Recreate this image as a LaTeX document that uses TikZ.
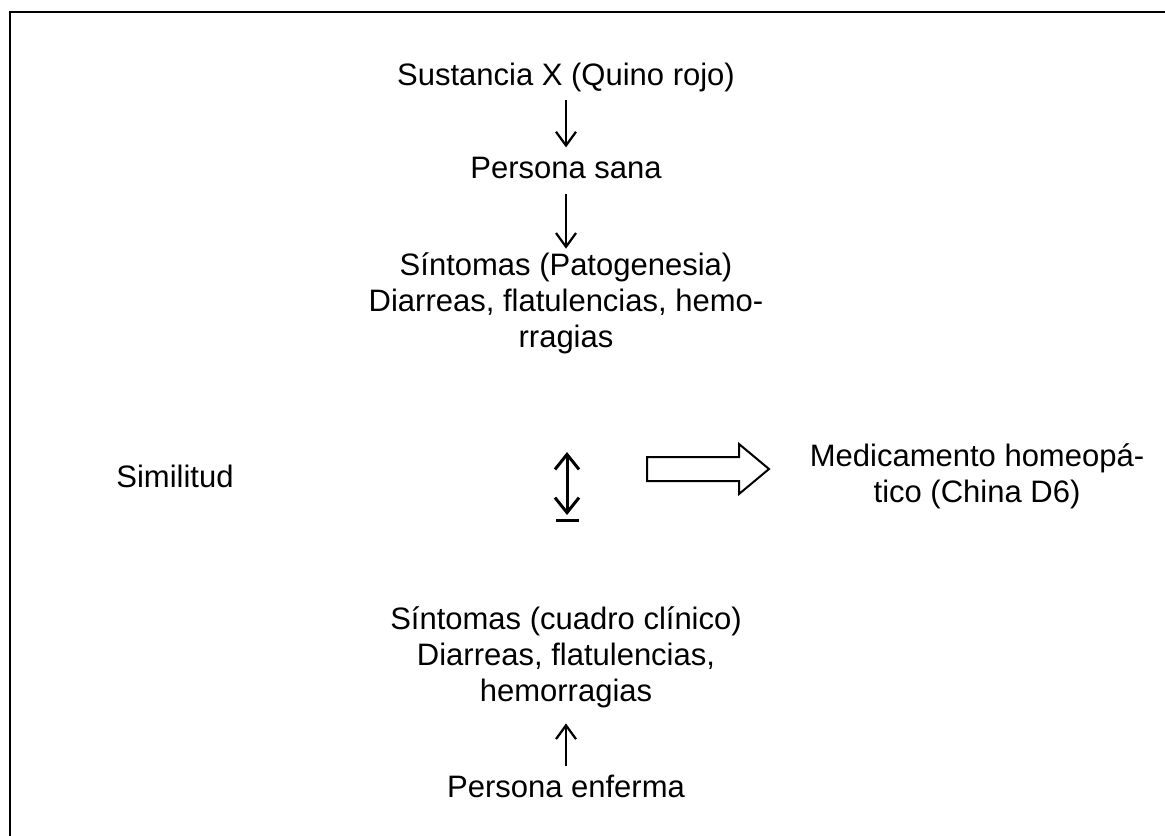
\documentclass[tikz,border=0pt]{standalone}
\usepackage{fontspec}
\setmainfont{Liberation Sans}
\usetikzlibrary{arrows.meta}
\begin{document}
\begin{tikzpicture}[x=0.4pt,y=-0.4pt,
  every node/.style={inner sep=0pt,font=\fontsize{12.4}{14.4}\selectfont},
  txt/.style={align=center,anchor=base},
  flow/.style={line width=0.9pt,-{Straight Barb[length=5.5pt,width=8pt]}},
  simarrow/.style={line width=1.2pt,{Straight Barb[length=6pt,width=9.6pt]}-{Straight Barb[length=6pt,width=9.6pt]}}]
\useasboundingbox (0,0) rectangle (1165,835);
\draw[line width=1.1pt] (1175,12) -- (10,12) -- (10,845);

% base of a multi-line node = its last line
\node[txt] (sust) at (566,85) {Sustancia X (Quino rojo)};
\node[txt] (sana) at (566,178) {Persona sana};
\node[txt] (pato) at (566,347) {Síntomas (Patogenesia)\\Diarreas, flatulencias, hemo-\\rragias};
\node[txt] (simil) at (175,487) {Similitud};
\node[txt] (medic) at (977,502) {Medicamento homeopá-\\tico (China D6)};
\node[txt] (cuadro) at (566,701) {Síntomas (cuadro clínico)\\Diarreas, flatulencias,\\hemorragias};
\node[txt] (enferma) at (566,797) {Persona enferma};

\draw[flow,shorten <=3.4pt,shorten >=3.5pt] (sust) -- (sana);
\draw[flow,shorten <=6.2pt,shorten >=1.2pt] (sana) -- (pato);
\draw[flow,shorten <=3.1pt,shorten >=6.2pt] (enferma) -- (cuadro);

% similitud
\coordinate (uptip) at (567,452);
\coordinate (downtip) at (567,515);
\coordinate (barl) at (556,520);
\coordinate (barr) at (579,520);
\draw[simarrow] (uptip) -- (downtip);
\draw[line width=1.2pt] (barl) -- (barr);

% hollow arrow
\draw[line width=0.8pt] (647,457) -- (739,457) -- (739,444) -- (769,469) -- (739,494) -- (739,481) -- (647,481) -- cycle;
\end{tikzpicture}
\end{document}
